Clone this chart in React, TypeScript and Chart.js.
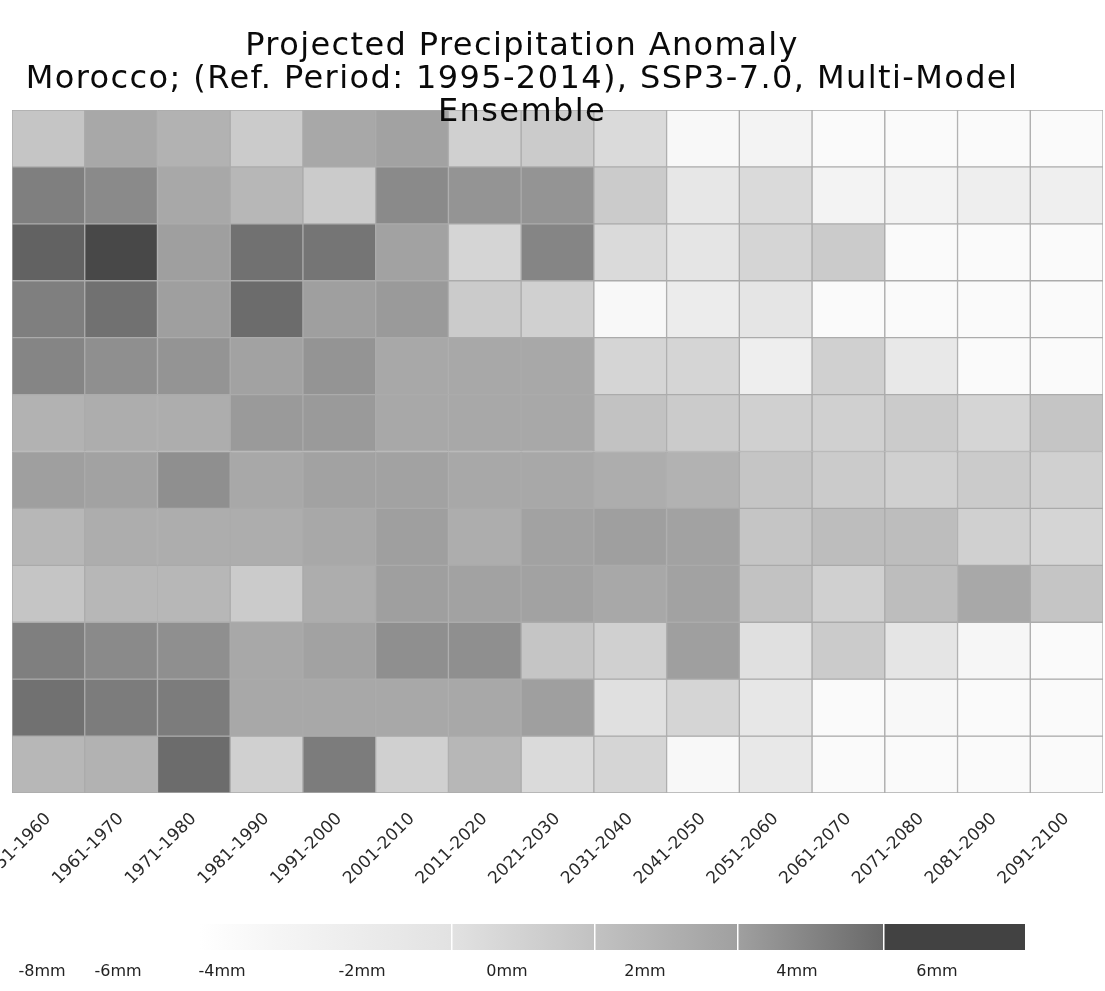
import React, { useEffect, useRef } from 'react';
import { Chart, registerables } from 'chart.js';

Chart.register(...registerables);

const titleLines = [
  'Projected Precipitation Anomaly',
  'Morocco; (Ref. Period: 1995-2014), SSP3-7.0, Multi-Model',
  'Ensemble',
];

const periods = [
  '1951-1960', '1961-1970', '1971-1980', '1981-1990', '1991-2000',
  '2001-2010', '2011-2020', '2021-2030', '2031-2040', '2041-2050',
  '2051-2060', '2061-2070', '2071-2080', '2081-2090', '2091-2100',
];

const rowNames = ['Jan', 'Feb', 'Mar', 'Apr', 'May', 'Jun', 'Jul', 'Aug', 'Sep', 'Oct', 'Nov', 'Dec'];

// anomaly values in mm, one array per row (top to bottom)
const jan = [-1.1, 0.6, 0.0, -1.4, 0.6, 0.9, -1.7, -1.4, -2.3, -4.0, -3.7, -4.1, -4.1, -4.1, -4.1];
const feb = [2.9, 2.3, 0.6, -0.3, -1.4, 2.3, 1.7, 1.7, -1.4, -3.0, -2.3, -3.7, -3.7, -3.4, -3.5];
const mar = [4.5, 5.8, 1.1, 3.7, 3.5, 0.9, -2.0, 2.6, -2.3, -2.9, -2.0, -1.4, -4.1, -4.1, -4.1];
const apr = [2.9, 3.7, 1.1, 4.0, 1.1, 1.4, -1.4, -1.7, -4.0, -3.3, -2.9, -4.1, -4.1, -4.1, -4.1];
const may = [2.6, 2.0, 1.7, 0.9, 1.7, 0.6, 0.6, 0.6, -2.0, -2.0, -3.4, -1.7, -3.1, -4.1, -4.1];
const jun = [0.0, 0.3, 0.3, 1.4, 1.4, 0.6, 0.6, 0.6, -0.9, -1.4, -1.7, -1.7, -1.4, -2.0, -1.1];
const jul = [1.1, 0.9, 2.0, 0.6, 0.9, 0.9, 0.6, 0.6, 0.3, 0.0, -1.1, -1.4, -1.7, -1.4, -1.7];
const aug = [-0.3, 0.3, 0.3, 0.3, 0.6, 1.1, 0.3, 0.9, 1.1, 0.9, -1.1, -0.6, -0.6, -1.7, -2.0];
const sep = [-1.1, -0.3, -0.3, -1.4, 0.3, 1.1, 0.9, 0.9, 0.6, 0.9, -0.9, -1.7, -0.6, 0.6, -1.1];
const oct = [2.9, 2.3, 2.0, 0.6, 0.9, 2.0, 2.0, -1.1, -1.7, 1.1, -2.6, -1.4, -2.9, -3.9, -4.1];
const nov = [3.7, 3.1, 3.1, 0.6, 0.6, 0.6, 0.6, 1.1, -2.6, -2.0, -3.0, -4.1, -4.0, -4.1, -4.1];
const dec = [-0.3, 0.0, 4.0, -1.7, 3.1, -1.7, -0.3, -2.3, -2.0, -4.0, -3.1, -4.1, -4.1, -4.1, -4.1];

const rowValues = [jan, feb, mar, apr, may, jun, jul, aug, sep, oct, nov, dec];

const legendLabels = ['-8mm', '-6mm', '-4mm', '-2mm', '0mm', '2mm', '4mm', '6mm'];

function grayFor(v: number): string {
  let g = v <= 4 ? 178 - 17.5 * v : 108 - 20 * (v - 4);
  g = Math.round(Math.max(60, Math.min(253, g)));
  return `rgb(${g},${g},${g})`;
}

const FONT = '"DejaVu Sans", "Open Sans", sans-serif';

const overlayPlugin = {
  id: 'overlay',
  afterDraw(chart: any) {
    const ctx: CanvasRenderingContext2D = chart.ctx;
    ctx.save();
    // title
    ctx.fillStyle = '#0a0a0a';
    ctx.font = `32px ${FONT}`;
    ctx.textAlign = 'center';
    ctx.textBaseline = 'alphabetic';
    (ctx as any).letterSpacing = '1.4px';
    titleLines.forEach((t, i) => ctx.fillText(t, 522, 55 + i * 33));
    (ctx as any).letterSpacing = '0px';

    // colour legend
    const top = 924;
    const h = 26;
    const x0 = 200;
    const x1 = 883;
    const grad = ctx.createLinearGradient(x0, 0, x1, 0);
    grad.addColorStop(0, 'rgb(255,255,255)');
    grad.addColorStop((270 - x0) / (x1 - x0), 'rgb(246,246,246)');
    grad.addColorStop((451 - x0) / (x1 - x0), 'rgb(226,226,226)');
    grad.addColorStop((594 - x0) / (x1 - x0), 'rgb(194,194,194)');
    grad.addColorStop((737 - x0) / (x1 - x0), 'rgb(160,160,160)');
    grad.addColorStop(1, 'rgb(105,105,105)');
    ctx.fillStyle = grad;
    ctx.fillRect(x0, top, x1 - x0, h);
    ctx.fillStyle = 'rgb(66,66,66)';
    ctx.fillRect(x1, top, 1025 - x1, h);
    ctx.fillStyle = '#ffffff';
    [451, 594, 737, 883].forEach((x) => ctx.fillRect(x, top, 1.5, h));

    ctx.fillStyle = '#222';
    ctx.font = `16px ${FONT}`;
    ctx.textAlign = 'center';
    ctx.textBaseline = 'middle';
    const labelX = [42, 118, 222, 362, 507, 645, 797, 937];
    legendLabels.forEach((l, i) => ctx.fillText(l, labelX[i], 972));
    ctx.restore();
  },
};

export default function App() {
  const ref = useRef<HTMLCanvasElement>(null);

  useEffect(() => {
    const prevMargin = document.body.style.margin;
    document.body.style.margin = '0';
    const canvas = ref.current!;
    const datasets = rowValues.map((vals, r) => ({
      label: rowNames[r],
      data: periods.map(() => [r, r + 1]),
      backgroundColor: vals.map(grayFor),
      borderColor: '#ababab',
      borderWidth: 1,
      borderSkipped: false,
      barPercentage: 1,
      categoryPercentage: 1,
      grouped: false,
    }));
    const chart = new Chart(canvas, {
      type: 'bar',
      data: { labels: periods, datasets: datasets as any },
      options: {
        responsive: false,
        animation: false,
        layout: { padding: { top: 110, left: 12, right: 2, bottom: 0 } },
        plugins: {
          legend: { display: false },
          title: { display: false },
          tooltip: { enabled: false },
        },
        scales: {
          x: {
            type: 'category',
            grid: { display: false, drawTicks: false },
            border: { display: false },
            ticks: {
              autoSkip: false,
              maxRotation: 45,
              minRotation: 45,
              padding: 16,
              color: '#2a2a2a',
              font: { family: FONT, size: 17 },
            },
            afterFit: (s: any) => {
              s.paddingLeft = 0;
              s.paddingRight = 0;
              s.height = 198;
            },
          },
          y: {
            display: false,
            min: 0,
            max: 12,
            reverse: true,
          },
        },
      },
      plugins: [overlayPlugin],
    });
    return () => {
      chart.destroy();
      document.body.style.margin = prevMargin;
    };
  }, []);

  return (
    <div style={{ position: 'fixed', left: 0, top: 0, width: 1105, height: 991, background: '#fff' }}>
      <canvas ref={ref} width={1105} height={991} style={{ display: 'block' }} />
    </div>
  );
}
